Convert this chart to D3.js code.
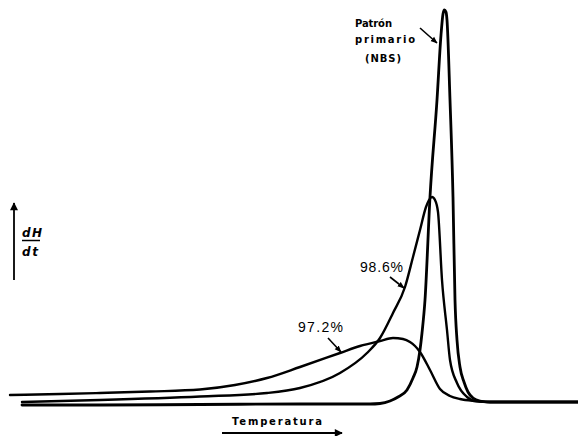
<!DOCTYPE html>
<html><head><meta charset="utf-8">
<script src="https://cdn.jsdelivr.net/npm/d3@7"></script>
<style>body{margin:0;background:#fff}svg{display:block}</style>
</head><body>
<script>
// Temperature (arbitrary units) and dH/dt (arbitrary units)
const primarioT = [3,22.5,47.5,72.5,90,92.5,95,97,99.25,100.75,101.75,102.5,103,103.75,105,106.75,107.75,108.25,108.6,109,109.25,110,110.75,111.25,111.75,112.5,113.5,114.5,115.75,117.5,120,142];
const primarioV = [0,0,0.1,0.2,0.2,0.3,0.8,1.6,3,5.4,7.6,11,14.4,21,41.6,61,74,78.2,79,78.6,77,61,41.6,21,13,7.6,4.6,2.6,1.4,0.8,0.6,0.6];

const p986T = [3,22.5,47.5,64.25,72.5,82.5,89.25,92.5,95.75,98.75,100.75,102.5,104,104.75,105.5,106.25,107,108,109.25,110,111.75,114.25,116.25,120,142];
const p986V = [0.6,1,1.7,2.4,3.4,6.4,10.4,13.4,18.4,23.6,29.6,35,39.6,41,41.6,41,38.6,25,15,9,4.4,1.6,0.8,0.6,0.6];

const p972T = [0,12.5,22.5,35,47.5,56.25,64.25,72.5,82.5,87.5,92.5,95.75,98.25,100,101.25,102.5,105,107.5,110,112.5,116.25,120,142];
const p972V = [2,2.2,2.4,2.7,3.1,4,5.4,7.6,10.4,11.8,12.8,13.4,13.2,12.6,11.8,10.6,7,3.2,1.8,1.2,0.8,0.6,0.6];

// Annotation labels
const labelPatron = ["Patrón", "primario", "(NBS)"];
const label986 = "98.6%";
const label972 = "97.2%";
const axisX = "Temperatura";
const axisYTop = "dH", axisYBottom = "dt";

const W = 578, H = 436;
const x = d3.scaleLinear().domain([0, 142]).range([10, 578]);
const y = d3.scaleLinear().domain([0, 79]).range([405, 10]);

const svg = d3.select("body").append("svg").attr("width", W).attr("height", H);
const defs = svg.append("defs");
defs.append("marker").attr("id","ah").attr("viewBox","0 0 10 10").attr("refX",9).attr("refY",5)
  .attr("markerWidth",7).attr("markerHeight",7).attr("markerUnits","userSpaceOnUse").attr("orient","auto")
  .append("path").attr("d","M0,1 L10,5 L0,9 Z").attr("fill","#000");
defs.append("marker").attr("id","ah2").attr("viewBox","0 0 10 10").attr("refX",9).attr("refY",5)
  .attr("markerWidth",9).attr("markerHeight",8).attr("markerUnits","userSpaceOnUse").attr("orient","auto")
  .append("path").attr("d","M0,0 L10,5 L0,10 Z").attr("fill","#000");

const line = d3.line().x(d => x(d[0])).y(d => y(d[1])).curve(d3.curveMonotoneX);
const series = [
  {T: p972T, V: p972V, w: 2.4},
  {T: p986T, V: p986V, w: 2.4},
  {T: primarioT, V: primarioV, w: 2.8}
];
svg.selectAll("path.curve").data(series).enter().append("path").attr("class","curve")
  .attr("d", s => line(s.T.map((t,i) => [t, s.V[i]])))
  .attr("fill","none").attr("stroke","#000").attr("stroke-width", s => s.w)
  .attr("stroke-linejoin","round").attr("stroke-linecap","round");

// annotation arrows (data units)
const annots = [
  {from:[102.5, 75.4], to:[106.75, 72.4]},
  {from:[95, 25.6], to:[98.5, 23.4]},
  {from:[79.5, 13.4], to:[82.75, 10.6]}
];
svg.selectAll("line.ann").data(annots).enter().append("line").attr("class","ann")
  .attr("x1", d => x(d.from[0])).attr("y1", d => y(d.from[1]))
  .attr("x2", d => x(d.to[0])).attr("y2", d => y(d.to[1]))
  .attr("stroke","#000").attr("stroke-width",1.6).attr("marker-end","url(#ah)");

// Patrón primario label
const patronPos = [[86.25, 75.6, 37], [86.25, 72.4, 60], [88.75, 68.6, 36]];
svg.selectAll("text.patron").data(labelPatron).enter().append("text").attr("class","patron")
  .attr("x", (d,i) => x(patronPos[i][0])).attr("y", (d,i) => y(patronPos[i][1]))
  .attr("textLength", (d,i) => patronPos[i][2]).attr("lengthAdjust","spacing")
  .attr("font-family","DejaVu Sans").attr("font-weight","bold").attr("font-size",10)
  .text(d => d);

svg.append("text").attr("x", x(87.5)).attr("y", y(26.6))
  .attr("textLength",43).attr("lengthAdjust","spacing")
  .attr("font-family","Liberation Sans, Arial").attr("font-size",14).text(label986);
svg.append("text").attr("x", x(72)).attr("y", y(14.6))
  .attr("textLength",45).attr("lengthAdjust","spacing")
  .attr("font-family","Liberation Sans, Arial").attr("font-size",14).text(label972);

// X axis label and arrow
svg.append("text").attr("x",232).attr("y",425).attr("textLength",90).attr("lengthAdjust","spacing")
  .attr("font-family","DejaVu Sans").attr("font-weight","bold").attr("font-size",10).text(axisX);
svg.append("line").attr("x1",222).attr("y1",433).attr("x2",342).attr("y2",433)
  .attr("stroke","#000").attr("stroke-width",1.8).attr("marker-end","url(#ah2)");

// Y axis arrow and fraction label
svg.append("line").attr("x1",14).attr("y1",280).attr("x2",14).attr("y2",203)
  .attr("stroke","#000").attr("stroke-width",1.8).attr("marker-end","url(#ah2)");
svg.append("text").attr("x",22).attr("y",237).attr("textLength",20).attr("lengthAdjust","spacing")
  .attr("font-family","DejaVu Sans").attr("font-weight","bold").attr("font-style","italic").attr("font-size",12).text(axisYTop);
svg.append("line").attr("x1",22).attr("y1",240.5).attr("x2",40).attr("y2",240.5).attr("stroke","#000").attr("stroke-width",1.5);
svg.append("text").attr("x",22).attr("y",256).attr("textLength",16).attr("lengthAdjust","spacing")
  .attr("font-family","DejaVu Sans").attr("font-weight","bold").attr("font-style","italic").attr("font-size",12).text(axisYBottom);
</script>
</body></html>
